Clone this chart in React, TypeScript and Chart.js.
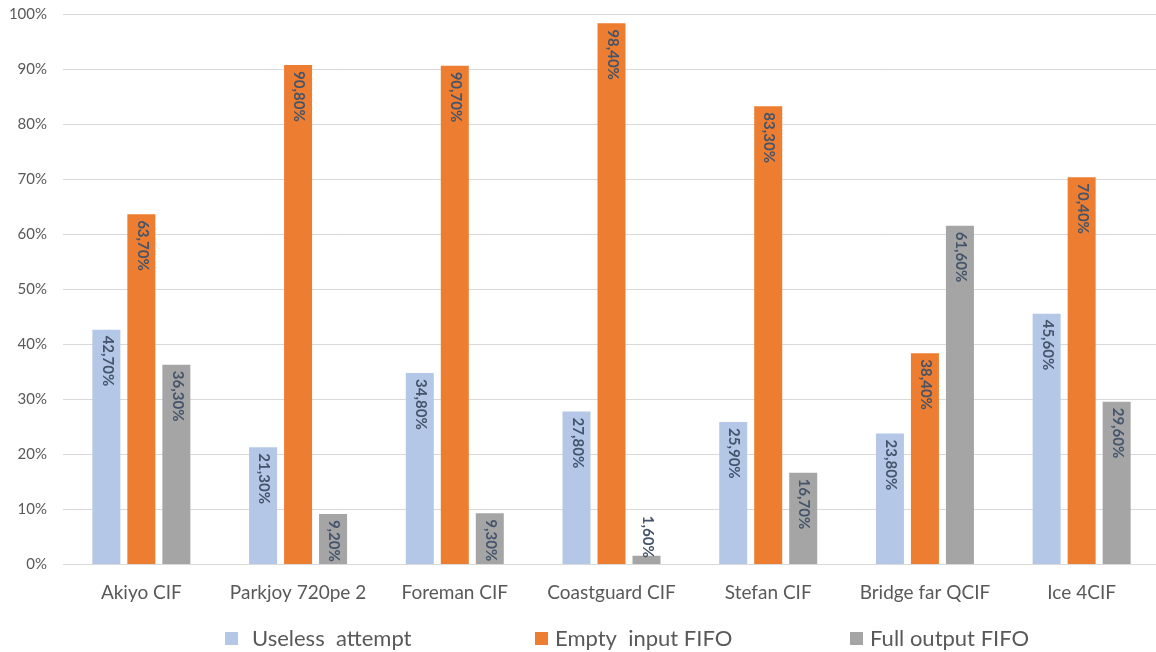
import React, { useEffect, useRef } from "react";
import { Chart, registerables } from "chart.js";

Chart.register(...registerables);

const categories = [
  "Akiyo CIF",
  "Parkjoy 720pe 2",
  "Foreman CIF",
  "Coastguard CIF",
  "Stefan CIF",
  "Bridge far QCIF",
  "Ice 4CIF",
];
const seriesNames = ["Useless  attempt", "Empty  input FIFO", "Full output FIFO"];
const uselessAttempt = [42.7, 21.3, 34.8, 27.8, 25.9, 23.8, 45.6];
const emptyInputFifo = [63.7, 90.8, 90.7, 98.4, 83.3, 38.4, 70.4];
const fullOutputFifo = [36.3, 9.2, 9.3, 1.6, 16.7, 61.6, 29.6];
const seriesColors = ["#B4C7E7", "#ED7D31", "#A5A5A5"];
const yTickMax = 100;
const yTickStep = 10;

const FONT = "Lato, 'Open Sans', sans-serif";

const fmt = (v: number) => v.toFixed(2).replace(".", ",") + "%";

const labelPlugin = {
  id: "rotLabels",
  afterDatasetsDraw(chart: any) {
    const ctx = chart.ctx;
    ctx.save();
    ctx.font = `bold 15px ${FONT}`;
    ctx.fillStyle = "#44546A";
    chart.data.datasets.forEach((ds: any, di: number) => {
      const meta = chart.getDatasetMeta(di);
      meta.data.forEach((el: any, i: number) => {
        const v = ds.data[i];
        const txt = fmt(v);
        const w = ctx.measureText(txt).width;
        const top = el.y;
        const base = el.base;
        let start;
        if (base - top >= w + 6) start = top + 6;
        else start = top + 2 - w;
        ctx.save();
        ctx.translate(el.x + 1, start);
        ctx.rotate(Math.PI / 2);
        ctx.textAlign = "left";
        ctx.textBaseline = "middle";
        ctx.fillText(txt, 0, 0);
        ctx.restore();
      });
    });
    ctx.restore();
  },
};

const legendPlugin = {
  id: "customLegend",
  afterDraw(chart: any) {
    const ctx = chart.ctx;
    const starts = [225, 535, 850];
    const textStarts = [252, 555, 870];
    const cy = 638.5;
    ctx.save();
    ctx.font = `22px ${FONT}`;
    ctx.textBaseline = "middle";
    ctx.textAlign = "left";
    seriesNames.forEach((name, i) => {
      ctx.fillStyle = seriesColors[i];
      ctx.fillRect(starts[i], cy - 6.5, 13, 13);
      ctx.fillStyle = "#595959";
      ctx.fillText(name, textStarts[i], cy);
    });
    ctx.restore();
  },
};

export default function App() {
  const ref = useRef<HTMLCanvasElement | null>(null);
  useEffect(() => {
    document.body.style.margin = "0";
    document.body.style.overflow = "hidden";
    const chart = new Chart(ref.current as HTMLCanvasElement, {
      type: "bar",
      data: {
        labels: categories,
        datasets: [uselessAttempt, emptyInputFifo, fullOutputFifo].map((d, i) => ({
          label: seriesNames[i],
          data: d,
          backgroundColor: seriesColors[i],
          borderWidth: 0,
          categoryPercentage: 0.67,
          barPercentage: 0.8,
        })),
      },
      options: {
        animation: false,
        responsive: false,
        devicePixelRatio: 1,
        layout: { padding: { left: 0, right: 10, top: 14.5, bottom: 40 } },
        plugins: {
          legend: { display: false },
          tooltip: { enabled: false },
        },
        scales: {
          x: {
            grid: { display: false, drawTicks: false },
            border: { display: false },
            ticks: {
              color: "#595959",
              font: { family: FONT, size: 19 },
              padding: 17,
              maxRotation: 0,
              autoSkip: false,
            },
            afterFit: (s: any) => {
              s.height = 47.5;
              s.paddingTop = 0;
              s.paddingBottom = 0;
            },
          },
          y: {
            min: 0,
            max: yTickMax,
            grid: { color: "#D9D9D9", drawTicks: false, lineWidth: 1 },
            border: { display: false },
            ticks: {
              stepSize: yTickStep,
              color: "#595959",
              font: { family: FONT, size: 15 },
              padding: 16,
              callback: (v: any) => v + "%",
            },
            afterFit: (s: any) => {
              s.width = 63;
              s.paddingTop = 0;
              s.paddingBottom = 0;
            },
          },
        },
      },
      plugins: [labelPlugin, legendPlugin],
    });
    return () => chart.destroy();
  }, []);
  return (
    <div style={{ width: 1156, height: 652, overflow: "hidden", position: "relative" }}>
      <canvas ref={ref} width={1170} height={652} style={{ display: "block" }} />
    </div>
  );
}
